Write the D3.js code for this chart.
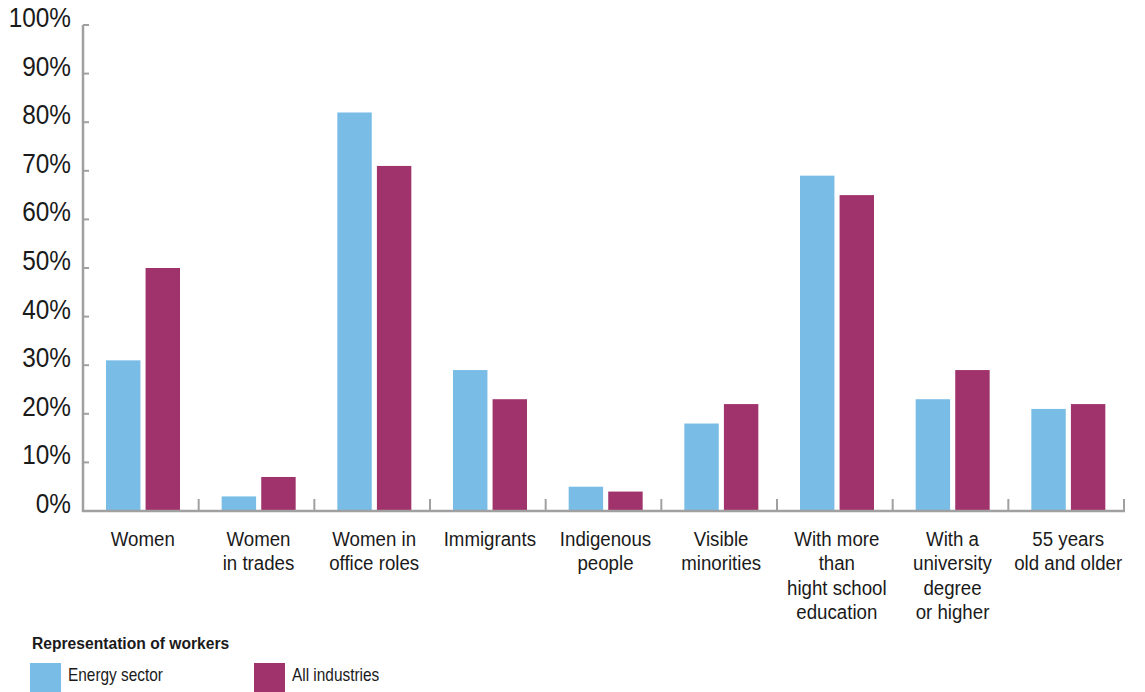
<!DOCTYPE html>
<html>
<head>
<meta charset="utf-8">
<script src="https://cdn.jsdelivr.net/npm/d3@7/dist/d3.min.js"></script>
<style>
  html, body { margin: 0; padding: 0; background: #fff; }
  svg { display: block; }
  text { font-family: "Liberation Sans", Arial, sans-serif; fill: #1a1a1a; }
</style>
</head>
<body>
<svg id="chart" width="1145" height="692"></svg>
<script>
const categories = [
  ["Women"],
  ["Women", "in trades"],
  ["Women in", "office roles"],
  ["Immigrants"],
  ["Indigenous", "people"],
  ["Visible", "minorities"],
  ["With more", "than", "hight school", "education"],
  ["With a", "university", "degree", "or higher"],
  ["55 years", "old and older"]
];
const seriesNames = ["Energy sector", "All industries"];
const energySector = [31, 3, 82, 29, 5, 18, 69, 23, 21];
const allIndustries = [50, 7, 71, 23, 4, 22, 65, 29, 22];
const yTicks = [0, 10, 20, 30, 40, 50, 60, 70, 80, 90, 100];
const legendTitle = "Representation of workers";
const colors = ["#79bde7", "#a0336b"];

const svg = d3.select("#chart");
const x0 = d3.scaleBand().domain(d3.range(categories.length)).range([83, 1124]).padding(0);
const x1 = d3.scaleBand().domain(seriesNames).range([23, 97]).paddingInner(0.13);
const y = d3.scaleLinear().domain([0, 100]).range([511, 25]);
const series = [energySector, allIndustries];

// bars
const groups = svg.append("g").selectAll("g")
  .data(categories.map((c, i) => i))
  .join("g")
  .attr("transform", i => `translate(${x0(i)},0)`);
groups.selectAll("rect")
  .data(i => seriesNames.map((s, k) => ({ s, k, v: series[k][i] })))
  .join("rect")
  .attr("x", d => x1(d.s))
  .attr("width", x1.bandwidth())
  .attr("y", d => y(d.v))
  .attr("height", d => y(0) - y(d.v))
  .attr("fill", d => colors[d.k]);

// y axis
const axisColor = "#a0a0a0";
svg.append("line").attr("x1", 83).attr("x2", 83).attr("y1", y(100)).attr("y2", y(0) + 1)
  .attr("stroke", axisColor).attr("stroke-width", 2.5);
svg.append("g").selectAll("line").data(yTicks).join("line")
  .attr("x1", 83).attr("x2", 89).attr("y1", d => y(d)).attr("y2", d => y(d))
  .attr("stroke", axisColor).attr("stroke-width", 2);
svg.append("g").selectAll("g").data(yTicks).join("g")
  .attr("transform", d => `translate(71,${y(d) + 2}) scale(0.87,1)`)
  .append("text")
  .attr("text-anchor", "end")
  .style("font-size", "28px")
  .text(d => d + "%");

// x axis
svg.append("line").attr("x1", 82).attr("x2", 1125).attr("y1", y(0)).attr("y2", y(0))
  .attr("stroke", axisColor).attr("stroke-width", 2.5);
svg.append("g").selectAll("line").data(d3.range(1, categories.length + 1)).join("line")
  .attr("x1", i => x0(i - 1) + x0.bandwidth()).attr("x2", i => x0(i - 1) + x0.bandwidth())
  .attr("y1", y(0)).attr("y2", y(0) - 12)
  .attr("stroke", axisColor).attr("stroke-width", 2);

// category labels
const lab = svg.append("g").selectAll("g").data(categories.map((c, i) => ({ c, i }))).join("g")
  .attr("transform", d => `translate(${x0(d.i) + x0.bandwidth() / 2 + 2},546) scale(0.89,1)`)
  .append("text")
  .attr("text-anchor", "middle")
  .style("font-size", "21px");
lab.selectAll("tspan").data(d => d.c).join("tspan")
  .attr("x", 0).attr("y", (t, j) => j * 24.5)
  .text(t => t);

// legend
svg.append("g").attr("transform", "translate(32,649) scale(0.92,1)")
  .append("text")
  .style("font-size", "17px").style("font-weight", "bold")
  .text(legendTitle);
const legX = [30, 254];
const leg = svg.append("g").selectAll("g").data(seriesNames).join("g")
  .attr("transform", (d, k) => `translate(${legX[k]},663)`);
leg.append("rect").attr("width", 31).attr("height", 29).attr("fill", (d, k) => colors[k]);
leg.append("g").attr("transform", "translate(38,18) scale(0.88,1)")
  .append("text").style("font-size", "17.5px").text(d => d);
</script>
</body>
</html>
